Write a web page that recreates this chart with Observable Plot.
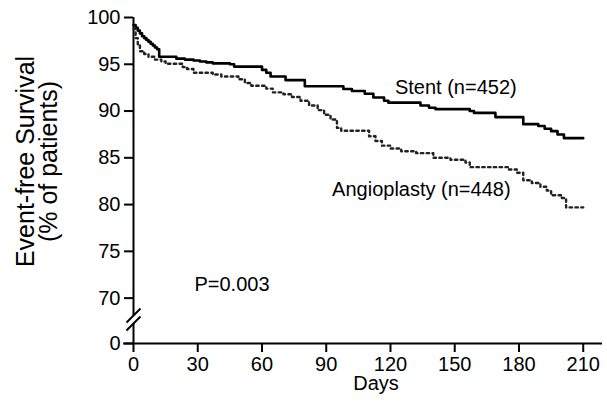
<!DOCTYPE html>
<html>
<head>
<meta charset="utf-8">
<script src="https://cdn.jsdelivr.net/npm/d3@7"></script>
<script src="https://cdn.jsdelivr.net/npm/@observablehq/plot@0.6"></script>
<style>
  html, body { margin: 0; padding: 0; background: #fff; }
</style>
</head>
<body>
<div id="chart"></div>
<script>
// Kaplan-Meier step data (day, event-free survival %)
const stentDays = [0,1,2,3,4,5,6,7,8,9,10,11,12,20,24,28,31,34,37,45,47,60,62,64,71,80,98,102,108,112,117,119,134,138,141,157,159,169,182,189,192,195,198,201,210];
const stentSurv = [99.2,98.9,98.6,98.3,98.0,97.8,97.6,97.4,97.2,97.0,96.8,96.6,95.8,95.6,95.5,95.4,95.3,95.2,95.1,95.0,94.75,94.4,94.1,93.7,93.3,92.65,92.35,92.15,91.85,91.45,91.1,90.9,90.6,90.35,90.2,90.0,89.8,89.35,88.6,88.4,88.1,87.85,87.5,87.1,87.1];

const angioDays = [0,1,2,3,5,7,10,13,15,23,25,28,37,41,49,52,55,62,65,70,74,78,82,86,89,92,95,97,110,113,116,120,125,132,140,148,155,157,175,179,182,186,190,193,195,200,202,210];
const angioSurv = [98.8,97.8,97.0,96.4,96.1,95.8,95.5,95.3,95.05,94.7,94.5,94.1,93.9,93.7,93.4,93.0,92.7,92.4,92.0,91.8,91.5,91.1,90.6,90.1,89.6,89.1,88.2,87.9,87.3,86.8,86.3,86.0,85.7,85.5,85.0,84.8,84.5,84.0,83.75,83.4,82.6,82.3,81.9,81.5,81.0,80.7,79.7,79.7];

// broken y axis: the axis floor (labelled "0") sits just below 70
const yFloor = 65.15;
const xTicks = [0,30,60,90,120,150,180,210];
const yTicks = [yFloor,70,75,80,85,90,95,100];

// annotation labels (text, day, value)
const labelTexts = ["Stent (n=452)", "Angioplasty (n=448)", "P=0.003"];
const labelDays = [150.5, 134.4, 46];
const labelVals = [92.5, 81.6, 71.5];

// y-axis break: visible axis segments and the two slash marks
const axisSegStart = [100, 67.29];
const axisSegEnd = [68.14, yFloor];
const slashX1 = [-3.27, -3.27], slashY1 = [67.40, 66.54];
const slashX2 = [3.27, 3.27],  slashY2 = [68.89, 68.04];

const stent = stentDays.map((d, i) => ({day: d, surv: stentSurv[i]}));
const angio = angioDays.map((d, i) => ({day: d, surv: angioSurv[i]}));
const labels = labelTexts.map((t, i) => ({text: t, day: labelDays[i], val: labelVals[i]}));
const segs = axisSegStart.map((s, i) => ({y1: s, y2: axisSegEnd[i]}));
const slashes = slashX1.map((x, i) => ({x1: x, y1: slashY1[i], x2: slashX2[i], y2: slashY2[i]}));

const font = "'Liberation Sans', Arial, Helvetica, sans-serif";

const chart = Plot.plot({
  width: 607,
  height: 417,
  marginLeft: 133,
  marginRight: 5,
  marginTop: 17,
  marginBottom: 74,
  x: {domain: [0, 219]},
  y: {domain: [yFloor, 100]},
  style: {fontFamily: font, fontSize: "19px", color: "#000", background: "#fff", overflow: "visible"},
  marks: [
    Plot.axisX(xTicks, {tickSize: 9, tickPadding: 4, fontSize: 20, strokeWidth: 2, label: null, stroke: "#000"}),
    Plot.axisY(yTicks, {tickSize: 9, tickPadding: 4, fontSize: 20, strokeWidth: 2, label: null, stroke: "#000",
      tickFormat: d => d < 70 ? "0" : String(d)}),
    Plot.ruleY([yFloor], {x1: -4.6, x2: 219, stroke: "#000", strokeWidth: 2}),
    Plot.ruleX(segs, {x: 0, y1: "y1", y2: "y2", stroke: "#000", strokeWidth: 2}),
    Plot.link(slashes, {x1: "x1", y1: "y1", x2: "x2", y2: "y2", stroke: "#000", strokeWidth: 2}),
    Plot.line(stent, {x: "day", y: "surv", curve: "step-after", stroke: "#000", strokeWidth: 2.6}),
    Plot.line(angio, {x: "day", y: "surv", curve: "step-after", stroke: "#222", strokeWidth: 2.4, strokeDasharray: "2.4,3.4"}),
    Plot.text(labels, {x: "day", y: "val", text: "text", fontSize: 20, fill: "#000"}),
    Plot.text(["Days"], {frameAnchor: "bottom", lineAnchor: "middle", dx: 8, dy: 40, fontSize: 20, fill: "#000"}),
    Plot.text(["Event-free Survival\n(% of patients)"], {frameAnchor: "left", textAnchor: "middle", rotate: -90, dx: -95, dy: -19, fontSize: 25, lineHeight: 0.9, fill: "#000"})
  ]
});
document.getElementById("chart").appendChild(chart);
</script>
</body>
</html>
